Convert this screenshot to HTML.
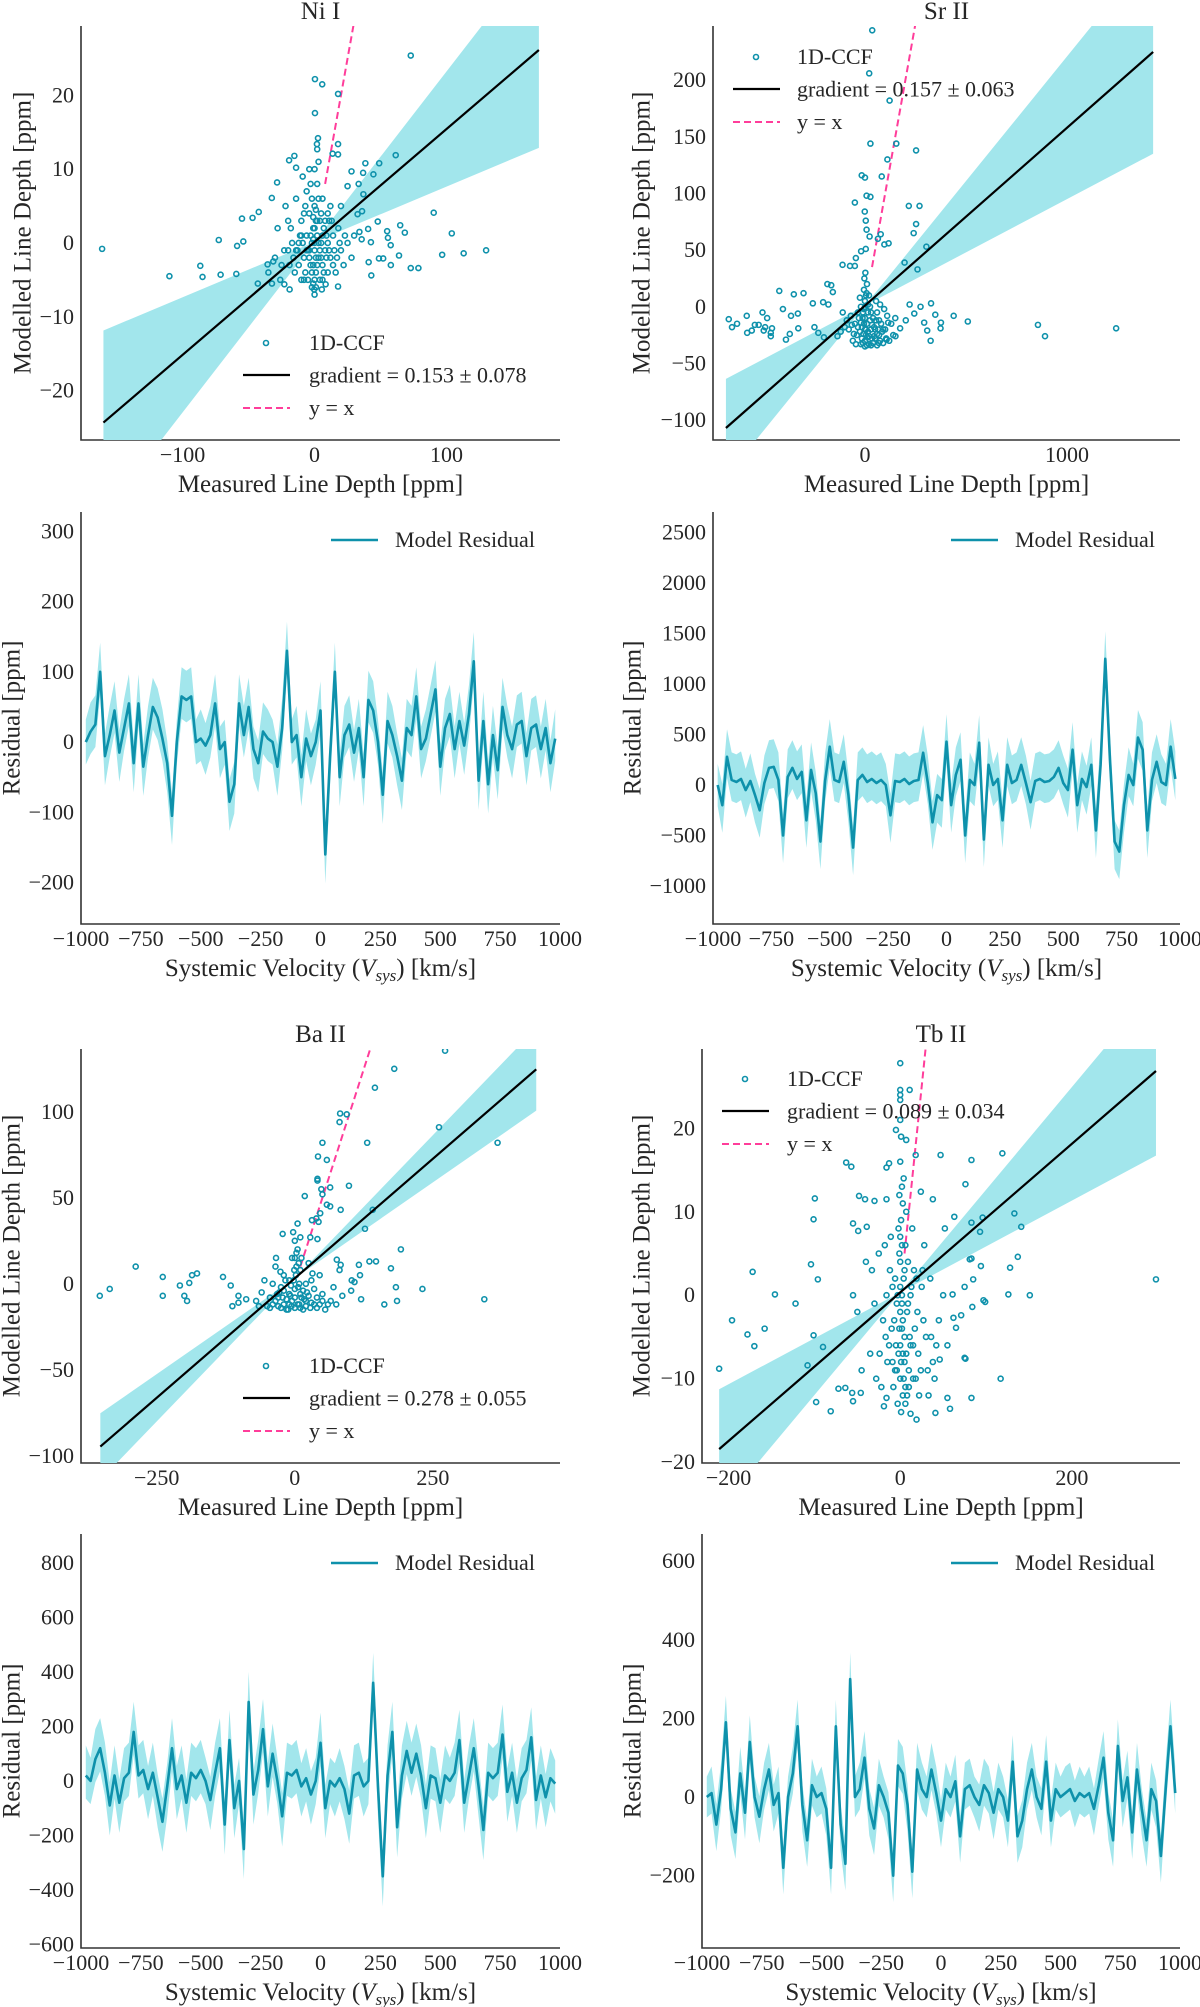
<!DOCTYPE html>
<html><head><meta charset="utf-8">
<style>
html,body{margin:0;padding:0;background:#fff;}
svg{display:block;font-family:"Liberation Serif","DejaVu Serif",serif;}
</style></head>
<body>
<svg id="fig" width="1200" height="2007" viewBox="0 0 1200 2007" xmlns="http://www.w3.org/2000/svg"></svg>
<script>
// ===== DATA =====
const niPoints=[[-161,-0.8],[-110,-4.5],[-86.6,-3.1],[-84.9,-4.6],[-72.6,0.4],[-71.2,-4.3],[-59.3,-4.2],[-58.7,-0.4],[-55,3.3],[-54,0.2],[-47,3.4],[-42.3,4.2],[-32.4,6.1],[-28.4,8.2],[-19.3,11.2],[-15.3,11.8],[-14,10.2],[0.3,22.2],[5.8,21.5],[17.8,20.2],[0.3,17.6],[2.6,14.2],[1.8,13.4],[2,12.7],[17.8,13.4],[13.7,12.1],[17.8,12],[72.9,25.4],[61.5,11.9],[49,10.8],[38.5,10.8],[36.8,9.5],[44.6,9.3],[28,9.7],[33.4,8],[25,7.7],[90.3,4.1],[104,1.3],[130,-1],[113,-1.4],[96.7,-1.6],[72.9,-3.4],[78.7,-3.4],[57.8,-3],[64,-1.7],[68.4,1.4],[64.9,2.4],[55,1.6],[55.6,0.7],[57.7,-0.3],[43,-4.4],[41,-2.6],[48.8,-2.1],[52,-2.1],[47.9,2.9],[40.6,1.9],[34,1.5],[35.7,0.5],[42.7,0.1],[36,4.3],[32.6,3.9],[37,6.6],[17.8,-5.9],[8.4,-5.6],[5.5,-6.3],[-0.3,-6.3],[-18.9,-6.3],[-22.9,-5.6],[-32.3,-5.5],[-43,-5.5],[-35.6,-2.9],[-31.3,-2.5],
[-25,-3],[-20,-1],[-18,2],[-15,-4],[-12,0],[-10,3],[-8,-2],[-6,1],[-5,-5],[-4,4],[-3,-3],[-2,0],[-1,2],[0,-1],[0,5],[1,-4],[2,1],[3,-2],[4,3],[5,0],[6,-3],[7,2],[8,-1],[10,4],[12,-2],[14,1],[16,-4],[18,2],[20,-1],[22,-3],[25,0],[-28,2],[-22,5],[-14,6],[-6,7],[2,8],[6,6],[12,5],[-10,-5],[-2,-6],[4,-5],[10,-4],[-16,-2],[0,2],[-4,-1],[3,6],[-8,4],[9,1],[15,-1],[-12,-3],[1,3],[-1,-3],[6,-5],[-3,8],[0,10],[-4,10],[3,11],[-7,5],[11,3],[-20,3],[-30,-2],[28,-2],[-35,-4],[30,1],[20,5],[-26,-5],[0,-7],[-9,9],[5,4],
[-1,0.5],[1,-2],[-2,-4],[2,-3],[0,-5],[-1,3.5],[1,4.5],[-3,1],[3,0],[-5,-1],[5,-2],[-7,-4],[7,-4],[-9,0],[9,-2],[-11,1],[11,-1],[-13,-1],[13,3],[-17,0],[17,-2],[-19,-3],[19,0],[-23,-1],[23,1],[-2,6],[2,3],[-1,-5.5],[1,-6],[0,0],[4,-1],[-4,-2],[6,1],[-6,-1],[8,3],[-8,-5],[10,0],[-10,1],[14,-3],[-14,-1]];
const srPoints=[[36,244],[21,206],[122,182],[27,144],[155,144],[253,138],[111,130],[83,115],[-16,116],[0,114],[-50,92],[8,98],[27,97],[-1,84],[4,76],[8,68],[23,62],[78,64],[64,60],[96,55],[117,56],[-45,43],[-19,49],[4,51],[217,89],[270,89],[253,73],[241,65],[304,53],[196,39],[260,33],[-111,37],[-74,36],[-50,36],[-186,20],[-167,19],[-159,13],[-424,14],[-352,11],[-304,12],[-258,3],[-207,4],[-181,2],[-406,-2],[-332,-6],[-366,-8],[-585,-8],[-507,-5],[-484,-10],[-674,-11],[-658,-18],[-633,-15],[-545,-16],[-526,-16],[-494,-18],[-460,-19],[-466,-23],[-583,-23],[-560,-21],[-501,-21],[-466,-26],[-391,-29],[-372,-24],[-330,-19],[-250,-18],[-231,-23],[-203,-27],[-136,-26],[327,3],[348,-7],[439,-8],[509,-13],[293,-14],[308,-21],[325,-30],[376,-14],[374,-19],[856,-16],[891,-26],[1243,-19],[221,2],[275,0],[244,-6],[202,-12],[174,-19],[151,-26],[107,-29],[69,-32],
[-80,-20],[-60,-30],[-40,-25],[-30,-10],[-20,-33],[-10,-5],[0,-30],[10,-15],[20,-33],[30,-20],[40,-10],[50,-28],[60,-5],[70,-25],[80,-15],[90,-32],[100,-20],[110,-8],[120,-30],[-50,-15],[-20,0],[0,5],[10,20],[20,10],[-5,15],[5,-20],[15,-5],[25,0],[-15,-18],[-35,-5],[45,-18],[35,-28],[-70,-8],[-90,-12],[130,-15],[140,-25],[0,-10],[-8,-24],[12,-27],[30,-34],[60,-34],[-45,-33],[2,30],[-3,25],[8,12],[-25,8],[55,5],[75,2],[95,-2],[-110,-5],[150,-10],
[0,-20],[5,-25],[-5,-15],[15,-22],[-15,-28],[25,-12],[-25,-22],[35,-16],[-35,-18],[45,-26],[55,-12],[65,-20],[75,-30],[85,-22],[-55,-24],[-65,-16],[0,-35],[10,-34],[-10,-32],[20,-26],[-20,-14],[40,-32],[50,-20],[60,-24],[0,0],[5,10],[-5,-2],[15,2],[-12,-10],[30,-5],[70,-12],[90,-20],[105,-28],[115,-14],[-100,-18],[-120,-22]];
const baPoints=[[272,135.5],[180,125],[145,114],[82,99],[94,98.5],[81,94],[261,91],[131,82],[367,82],[50,82],[42,74],[58,72],[41,60],[41,61],[48,55],[50,52],[18,51],[64,56],[98,57],[58,46],[64,45],[83,43],[141,43],[46,41],[127,32],[31,37],[39,38],[43,36],[-22,29],[10,27],[28,27],[41,26],[-34,15],[-26,7],[-288,10],[-239,4],[-191,0.5],[-186,5],[-177,6],[-335,-3],[-239,-7],[-208,-1],[-200,-7],[-195,-10],[-353,-7],[343,-9],[231,-3],[192,20],[174,9],[147,13],[135,13],[116,11],[118,5],[83,11],[76,14],[81,8],[103,2],[108,1],[183,-2],[185,-10],[162,-12],[86,-7],[102,-4],[120,-9],[-130,4],[-116,-1],[-102,-7],[-88,-9],[-102,-11],[-113,-13],
[-70,-10],[-60,-5],[-50,-13],[-40,0],[-30,-8],[-20,5],[-10,-12],[0,-3],[10,8],[20,-10],[30,2],[40,-14],[50,-6],[60,-12],[70,-2],[-5,15],[5,20],[0,25],[-15,-15],[15,-15],[25,12],[-25,-14],[35,-12],[-45,-8],[-35,10],[45,5],[55,-15],[65,-10],[-55,2],[0,-14],[10,-6],[-10,2],[20,0],[-20,-4],[5,35],[-3,30],[8,-12],[-8,-7],[12,15],[-65,-13],[75,-12],[3,10],
[0,-8],[5,-12],[-5,-10],[10,-14],[-10,-6],[15,-4],[-15,-9],[20,-13],[-20,-12],[25,-7],[-25,-2],[30,-11],[-30,-13],[35,-3],[-35,-10],[40,-8],[-40,-12],[45,-12],[-45,-14],[50,-10],[2,5],[-2,2],[7,12],[-7,-1],[12,-8],[-12,-15],[17,-9],[-17,2],[22,-5],[-22,-8],[0,15],[3,18],[-1,8],[6,-2],[-6,-13],[28,-14],[-28,-5],[32,6],[-32,-6],[8,0]];
const tbPoints=[[0,27.8],[0,24.6],[11,24.6],[0,24],[0,23.4],[0,21],[-5,19.8],[1,19],[7,18.6],[18,16.8],[47,16.8],[83,16.2],[119,17],[-63,15.9],[-57,15.4],[-13,15.8],[-16,15.3],[76,13.3],[-48,11.9],[-41,11.5],[-30,11.3],[-99.5,11.6],[-101,9.1],[-16,11.5],[24,12.4],[38,11.5],[133,9.8],[63,9.4],[83,8.7],[96,9.3],[141,8.2],[93,7.6],[52,8],[-55,8.6],[-39,8.2],[-49,7.7],[-172,2.8],[-104,3.7],[-96,1.9],[-146,0.1],[-122,-1],[-196,-3],[-178,-4.7],[-158,-4],[-170,-6.1],[-211,-8.8],[-101,-4.8],[-90,-6.2],[-108,-8.4],[-98,-12.8],[-81,-13.9],[-72,-11.2],[-64,-11.1],[-56,-11.7],[-46,-11.7],[-55,-12.7],[-19,-13.3],[-16,-12.3],[12,-14.2],[19,-14.9],[41,-14.1],[55,-12.3],[58,-13.6],[83,-12.3],[117,-10],[75,-7.5],[76,-7.6],[128,3.3],[137,4.6],[151,0],[81,4.3],[298,1.9],[83,4.4],[94,3.5],[85,1.9],[126,0.1],[97,-0.6],[99,-0.8],[61,0.1],[75,1],[84,-1.4],[62,-2.7],[71,-2.4],[65,-3.9],[46,-7.7],
[0,-10],[5,-8],[-5,-6],[2,-4],[8,-2],[-3,0],[4,2],[0,4],[6,6],[-2,8],[3,-12],[-8,-11],[10,-9],[-10,-4],[12,0],[-12,3],[15,-6],[-15,-8],[20,-2],[-20,-3],[25,1],[-25,5],[30,-5],[-30,-1],[35,2],[-35,-7],[40,-10],[-40,4],[45,-3],[-45,-9],[50,0],[-50,-2],[1,-14],[7,10],[-1,12],[4,14],[0,-2],[2,6],[-6,2],[9,4],[-4,-9],[6,-11],[18,-10],[-18,6],[28,6],[-28,-10],[38,-8],[22,-12],[-22,-11],[14,8],[0,1],[3,-7],[-7,-3],[11,-5],[-11,7],[16,3],[33,-12],[-33,3],[55,-6],[-55,0],[2,-1],[5,3],
[0,-6],[1,-8],[-1,-4],[3,-3],[-2,-7],[4,-10],[-4,-1],[2,0],[0,7],[1,9],[-1,5],[3,11],[2,13],[0,16],[5,-5],[-6,-9],[7,-7],[8,-12],[-9,-8],[10,-11],[12,-6],[-13,-6],[15,-10],[17,-4],[-17,-5],[21,-7],[24,-9],[-24,-7],[27,-3],[32,-9],[-3,-13],[6,-13],[9,-1],[-9,1],[13,1],[19,2],[26,3],[-16,0],[36,-5],[42,-6]];

// fit: slope, slope error, intercept, x-extent
const niFit=[0.153,0.078,0.14,-160,170];
const srFit=[0.157,0.063,1.0,-688,1426];
const baFit=[0.278,0.055,3.2,-352,437];
const tbFit=[0.089,0.034,0.34,-211,298];
const yxStart=[8,35,10,5];

// residuals on velocity grid -980..980 step 20
const velStart=-980, velStep=20;
const niRes=[0,15,25,100,-20,10,45,-15,20,55,-30,55,-35,10,50,35,5,-30,-105,0,65,60,65,0,5,-5,10,55,-10,0,-85,-60,55,10,50,-10,-30,15,5,0,-35,20,130,0,10,-50,5,-20,0,45,-160,-20,100,-50,10,25,-15,20,-50,60,45,0,-75,30,10,-20,-55,20,10,65,-10,5,40,75,-35,20,40,-10,30,-5,40,115,-55,30,-60,10,-40,50,10,-10,25,30,-20,20,25,-10,20,-30,5];
const srRes=[0,-200,280,50,30,60,-50,40,-100,-250,20,170,180,50,-500,80,170,60,130,-350,150,-80,-560,40,380,50,30,230,-100,-620,50,100,30,60,20,50,0,-300,40,30,60,10,40,50,320,20,-370,-100,-150,430,-200,100,250,-500,50,0,420,-540,200,0,60,-350,200,20,50,200,20,-170,40,60,30,40,80,170,20,-50,350,-200,60,-20,200,-450,200,1250,250,-560,-660,-200,100,0,470,350,-450,50,230,30,0,380,60];
const baRes=[20,0,80,120,30,-90,20,-80,10,30,180,20,40,-30,30,-60,-150,-20,120,-30,20,-80,30,10,40,0,-70,30,120,-160,150,-100,0,-250,290,-50,40,190,-20,100,0,-130,30,20,40,-20,10,-50,0,140,-100,0,-20,10,-30,-120,20,30,-20,0,360,-20,-350,20,180,-170,20,110,30,100,20,-100,20,10,-80,20,0,30,150,-80,20,120,-20,-180,30,10,30,170,-40,30,-80,10,40,160,-70,20,-60,10,-10];
const tbRes=[0,10,-70,20,190,-30,-90,60,-40,140,0,-50,20,70,-20,10,-180,0,60,180,-20,-110,30,0,10,-30,-180,180,-70,-170,300,0,20,100,-30,-80,30,0,-40,-200,80,60,-20,-190,70,20,0,70,10,-60,20,0,40,-100,20,30,0,-20,30,10,-40,20,0,-60,90,-100,-60,20,70,0,-30,90,-60,20,0,10,20,-10,10,0,10,-30,30,100,-40,-110,130,-10,50,-90,70,-30,-110,20,-10,-150,20,180,10];
const resErr=[32,210,85,52];

// tick labels
const niXTicks=[-100,0,100], niYTicks=[-20,-10,0,10,20];
const srXTicks=[0,1000], srYTicks=[-100,-50,0,50,100,150,200];
const baXTicks=[-250,0,250], baYTicks=[-100,-50,0,50,100];
const tbXTicks=[-200,0,200], tbYTicks=[-20,-10,0,10,20];
const velTicks=[-1000,-750,-500,-250,0,250,500,750,1000];
const niResYTicks=[-200,-100,0,100,200,300];
const srResYTicks=[-1000,-500,0,500,1000,1500,2000,2500];
const baResYTicks=[-600,-400,-200,0,200,400,600,800];
const tbResYTicks=[-200,0,200,400,600];

// ===== DRAWING =====
const NS="http://www.w3.org/2000/svg";
const svg=document.getElementById('fig');
const TEAL="#0e91ab", BAND="#a2e6ec", INK="#262626";
function mk(tag,parent){const e=document.createElementNS(NS,tag);(parent||svg).appendChild(e);return e;}
function fmt(v){return v<0?"\u2212"+Math.abs(v):String(v);}
let clipId=0;

function axes(p,g){
  const sx=v=>p.l+(v-p.x0)/(p.x1-p.x0)*(p.r-p.l);
  const sy=v=>p.b-(v-p.y0)/(p.y1-p.y0)*(p.b-p.t);
  const spines=mk('path',g);
  
  
  spines.setAttribute('d',`M${p.l},${p.t}V${p.b}H${p.r}`);
  spines.setAttribute('fill','none');spines.setAttribute('stroke','#333');spines.setAttribute('stroke-width','1.6');
  p.xt.forEach(v=>{const t=mk('text',g);
    
    
    t.setAttribute('x',sx(v));t.setAttribute('y',p.b+22);t.setAttribute('text-anchor','middle');
    t.setAttribute('font-size','22');t.setAttribute('fill',INK);t.textContent=fmt(v);});
  p.yt.forEach(v=>{const t=mk('text',g);
    
    
    t.setAttribute('x',p.l-7);t.setAttribute('y',sy(v)+7);t.setAttribute('text-anchor','end');
    t.setAttribute('font-size','22');t.setAttribute('fill',INK);t.textContent=fmt(v);});
  const cx=(p.l+p.r)/2;
  const yl=mk('text',g);
  
  
  const ly=(p.t+p.b)/2;
  yl.setAttribute('transform',`translate(${p.ylx},${ly}) rotate(-90)`);
  yl.setAttribute('text-anchor','middle');yl.setAttribute('dominant-baseline','central');
  yl.setAttribute('font-size','25');yl.setAttribute('fill',INK);yl.textContent=p.ylab;
  const xl=mk('text',g);
  
  
  xl.setAttribute('x',cx);xl.setAttribute('y',p.b+52);xl.setAttribute('text-anchor','middle');
  xl.setAttribute('font-size','25');xl.setAttribute('fill',INK);
  if(p.vel){
    const a=mk('tspan',xl);a.textContent="Systemic Velocity (";
    const b=mk('tspan',xl);b.setAttribute('font-style','italic');b.textContent="V";
    const c=mk('tspan',xl);c.setAttribute('font-style','italic');c.setAttribute('font-size','17');c.setAttribute('dy','5');c.textContent="sys";
    const d=mk('tspan',xl);d.setAttribute('dy','-5');d.textContent=") [km/s]";
  } else xl.textContent=p.xlab;
  if(p.title){const tt=mk('text',g);
    
    
    tt.setAttribute('x',cx);tt.setAttribute('y',p.t-7);tt.setAttribute('text-anchor','middle');
    tt.setAttribute('font-size','25');tt.setAttribute('fill',INK);tt.textContent=p.title;}
  const cid='clip'+(clipId++);
  const cp=mk('clipPath',g);cp.setAttribute('id',cid);
  const cr=mk('rect',cp);cr.setAttribute('x',p.l);cr.setAttribute('y',p.t);cr.setAttribute('width',p.r-p.l);cr.setAttribute('height',p.b-p.t);
  const inner=mk('g',g);inner.setAttribute('clip-path',`url(#${cid})`);
  
  
  return {sx,sy,inner};
}

function scatterPanel(p,pts,fit,yxs,legPos){
  const g=mk('g');
  
  
  const {sx,sy,inner}=axes(p,g);
  const [s,e,ic,xa,xb]=fit;
  const band=mk('path',inner);
  
  
  const pa=[[xa,ic+(s+e)*xa],[0,ic],[xb,ic+(s+e)*xb],[xb,ic+(s-e)*xb],[0,ic],[xa,ic+(s-e)*xa]];
  band.setAttribute('d','M'+pa.map(q=>sx(q[0])+','+sy(q[1])).join('L')+'Z');
  band.setAttribute('fill',BAND);
  const yx=mk('line',inner);
  
  
  yx.setAttribute('x1',sx(yxs));yx.setAttribute('y1',sy(yxs));yx.setAttribute('x2',sx(p.y1*1.2));yx.setAttribute('y2',sy(p.y1*1.2));
  yx.setAttribute('stroke','#ff3d9a');yx.setAttribute('stroke-width','2');yx.setAttribute('stroke-dasharray','7,4');
  pts.forEach(q=>{const c=mk('circle',inner);
    
    
    c.setAttribute('cx',sx(q[0]));c.setAttribute('cy',sy(q[1]));c.setAttribute('r','2.5');
    c.setAttribute('fill','none');c.setAttribute('stroke',TEAL);c.setAttribute('stroke-width','1.6');});
  const fl=mk('line',inner);
  
  
  fl.setAttribute('x1',sx(xa));fl.setAttribute('y1',sy(ic+s*xa));fl.setAttribute('x2',sx(xb));fl.setAttribute('y2',sy(ic+s*xb));
  fl.setAttribute('stroke','#000');fl.setAttribute('stroke-width','2.2');
  // legend
  const lg=mk('g',g);
  
  
  const [lx,ly,tx]=legPos;
  const m=mk('circle',lg);m.setAttribute('cx',lx+23);m.setAttribute('cy',ly);m.setAttribute('r','2.5');
  m.setAttribute('fill','none');m.setAttribute('stroke',TEAL);m.setAttribute('stroke-width','1.6');
  const l1=mk('line',lg);l1.setAttribute('x1',lx);l1.setAttribute('x2',lx+47);l1.setAttribute('y1',ly+32);l1.setAttribute('y2',ly+32);
  l1.setAttribute('stroke','#000');l1.setAttribute('stroke-width','2.2');
  const l2=mk('line',lg);l2.setAttribute('x1',lx);l2.setAttribute('x2',lx+47);l2.setAttribute('y1',ly+65);l2.setAttribute('y2',ly+65);
  l2.setAttribute('stroke','#ff3d9a');l2.setAttribute('stroke-width','2');l2.setAttribute('stroke-dasharray','7,4');
  const labs=['1D-CCF','gradient = '+s.toFixed(3)+' \u00b1 '+e.toFixed(3),'y = x'];
  labs.forEach((L,i)=>{const t=mk('text',lg);
    
    
    t.setAttribute('x',tx);t.setAttribute('y',ly+7+i*32.5);t.setAttribute('font-size','22');t.setAttribute('fill',INK);t.textContent=L;});
}

function residualPanel(p,vals,err,leg){
  const g=mk('g');
  
  
  const {sx,sy,inner}=axes(p,g);
  const vx=i=>velStart+velStep*i;
  const band=mk('path',inner);
  
  
  const up=vals.map((v,i)=>sx(vx(i))+','+sy(v+err*(v>0?1.3:1)));
  const dn=vals.map((v,i)=>sx(vx(i))+','+sy(v-err*(v<0?1.3:1))).reverse();
  band.setAttribute('d','M'+up.join('L')+'L'+dn.join('L')+'Z');
  band.setAttribute('fill',BAND);
  const ln=mk('polyline',inner);
  
  
  ln.setAttribute('points',vals.map((v,i)=>sx(vx(i))+','+sy(v)).join(' '));
  ln.setAttribute('fill','none');ln.setAttribute('stroke',TEAL);ln.setAttribute('stroke-width','2.6');ln.setAttribute('stroke-linejoin','round');
  const lg=mk('g',g);
  
  
  const l=mk('line',lg);l.setAttribute('x1',leg[0]);l.setAttribute('x2',leg[0]+47);l.setAttribute('y1',leg[1]);l.setAttribute('y2',leg[1]);
  l.setAttribute('stroke',TEAL);l.setAttribute('stroke-width','2.6');
  const t=mk('text',lg);
  
  
  t.setAttribute('x',leg[0]+64);t.setAttribute('y',leg[1]+7);t.setAttribute('font-size','22');t.setAttribute('fill',INK);t.textContent='Model Residual';
}

const MLD='Modelled Line Depth [ppm]', MEAS='Measured Line Depth [ppm]', RES='Residual [ppm]';
scatterPanel({name:'ni-scatter-panel',l:81,r:560,t:26,b:440,x0:-177,x1:186,y0:-26.7,y1:29.4,xt:niXTicks,yt:niYTicks,ylab:MLD,xlab:MEAS,ylx:23,title:'Ni I'},niPoints,niFit,yxStart[0],[243,343,309]);
scatterPanel({name:'sr-scatter-panel',l:713,r:1180,t:26,b:440,x0:-752,x1:1559,y0:-117.6,y1:247.8,xt:srXTicks,yt:srYTicks,ylab:MLD,xlab:MEAS,ylx:642,title:'Sr II'},srPoints,srFit,yxStart[1],[733,57,797]);
scatterPanel({name:'ba-scatter-panel',l:81,r:560,t:1049,b:1463,x0:-387,x1:480,y0:-104.2,y1:136.5,xt:baXTicks,yt:baYTicks,ylab:MLD,xlab:MEAS,ylx:12,title:'Ba II'},baPoints,baFit,yxStart[2],[243,1366,309]);
scatterPanel({name:'tb-scatter-panel',l:702,r:1180,t:1049,b:1463,x0:-231,x1:326,y0:-20.1,y1:29.5,xt:tbXTicks,yt:tbYTicks,ylab:MLD,xlab:MEAS,ylx:642,title:'Tb II'},tbPoints,tbFit,yxStart[3],[722,1079,787]);

residualPanel({name:'ni-residual-panel',l:81,r:560,t:512,b:924,x0:-1000,x1:1000,y0:-259,y1:327.6,xt:velTicks,yt:niResYTicks,ylab:RES,vel:true,ylx:12},niRes,resErr[0],[331,540]);
residualPanel({name:'sr-residual-panel',l:713,r:1180,t:512,b:924,x0:-1000,x1:1000,y0:-1377,y1:2705,xt:velTicks,yt:srResYTicks,ylab:RES,vel:true,ylx:633},srRes,resErr[1],[951,540]);
residualPanel({name:'ba-residual-panel',l:81,r:560,t:1534,b:1948,x0:-1000,x1:1000,y0:-613,y1:906,xt:velTicks,yt:baResYTicks,ylab:RES,vel:true,ylx:12},baRes,resErr[2],[331,1563]);
residualPanel({name:'tb-residual-panel',l:702,r:1180,t:1534,b:1948,x0:-1000,x1:1000,y0:-384,y1:669,xt:velTicks,yt:tbResYTicks,ylab:RES,vel:true,ylx:633},tbRes,resErr[3],[951,1563]);
</script>
</body></html>
